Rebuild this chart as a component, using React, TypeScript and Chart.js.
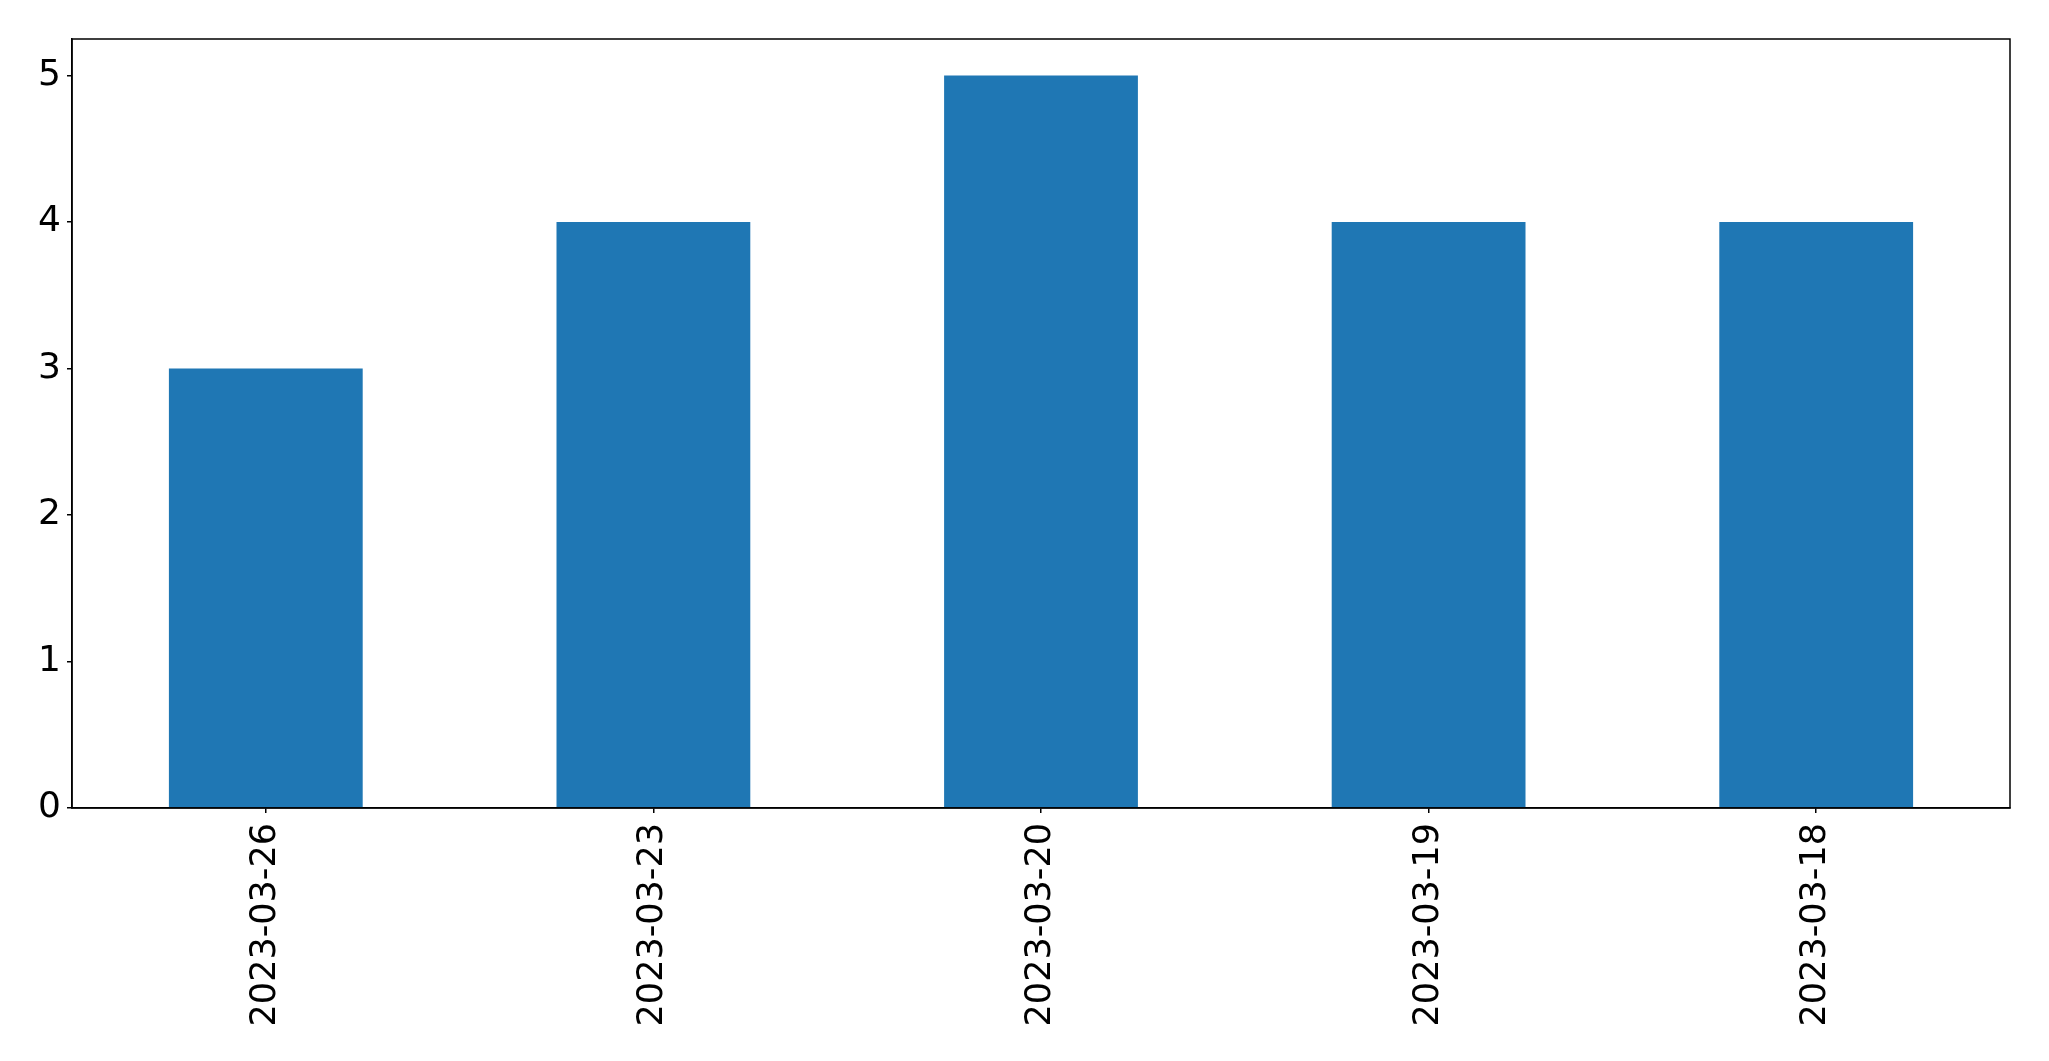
import React, { useEffect, useRef } from "react";
import { Chart, registerables } from "chart.js";

Chart.register(...registerables);

const categories = ["2023-03-26", "2023-03-23", "2023-03-20", "2023-03-19", "2023-03-18"];
const counts = [3, 4, 5, 4, 4];
const yTicks = [0, 1, 2, 3, 4, 5];
const yMax = 5.25;

const W = 2049;
const H = 1061;

const frame = {
  id: "frame",
  afterDatasetsDraw(chart: any) {
    const { ctx, chartArea } = chart;
    ctx.save();
    ctx.strokeStyle = "#000";
    ctx.lineWidth = 1.5;
    ctx.strokeRect(chartArea.left, chartArea.top, chartArea.right - chartArea.left, chartArea.bottom - chartArea.top);
    ctx.restore();
  },
};

export default function App() {
  const ref = useRef<HTMLCanvasElement>(null);
  useEffect(() => {
    document.body.style.margin = "0";
    const chart = new Chart(ref.current!, {
      type: "bar",
      data: {
        labels: categories,
        datasets: [
          {
            data: counts,
            backgroundColor: "#1f77b4",
            barPercentage: 0.5,
            categoryPercentage: 1,
          },
        ],
      },
      plugins: [frame],
      options: {
        animation: false,
        responsive: false,
        devicePixelRatio: 1,
        layout: { padding: { top: 39, right: 39, left: 0, bottom: 0 } },
        plugins: { legend: { display: false }, tooltip: { enabled: false } },
        scales: {
          x: {
            offset: true,
            grid: { display: true, drawOnChartArea: false, drawTicks: true, tickLength: 5, color: "#000", offset: false, lineWidth: 1.5 },
            border: { display: true, color: "#000", width: 1.5 },
            ticks: {
              color: "#000",
              font: { family: "DejaVu Sans", size: 35 },
              maxRotation: 90,
              minRotation: 90,
              padding: 10,
              autoSkip: false,
            },
            afterFit: (s: any) => {
              s.height = 253;
            },
          },
          y: {
            min: 0,
            max: yMax,
            grid: { display: true, drawOnChartArea: false, drawTicks: true, tickLength: 5, color: "#000", lineWidth: 1.5 },
            border: { display: true, color: "#000", width: 1.5 },
            ticks: {
              stepSize: 1,
              color: "#000",
              font: { family: "DejaVu Sans", size: 36 },
              padding: 6,
            },
            afterBuildTicks: (s: any) => {
              s.ticks = yTicks.map((v) => ({ value: v }));
            },
            afterFit: (s: any) => {
              s.width = 72;
            },
          },
        },
      },
    });
    return () => chart.destroy();
  }, []);
  return (
    <div style={{ width: W, height: H, background: "#fff" }}>
      <canvas ref={ref} width={W} height={H} style={{ width: W, height: H, display: "block" }} />
    </div>
  );
}
